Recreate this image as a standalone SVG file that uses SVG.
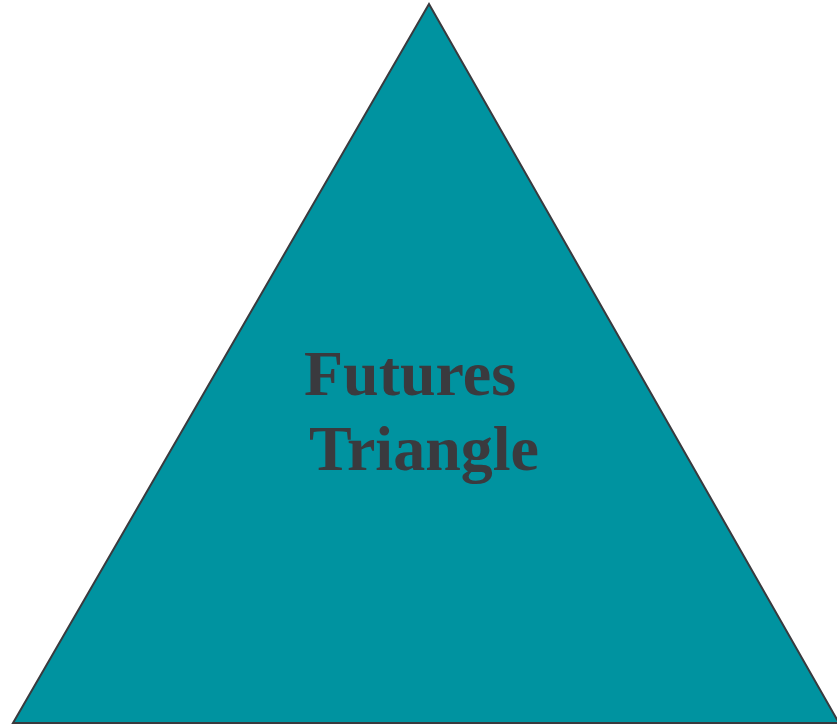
<svg xmlns="http://www.w3.org/2000/svg" width="837" height="726" viewBox="0 0 837 726">
<style>
.tri{fill:#0093a0;stroke:#3a3a3e;stroke-width:2}
.lbl{font-family:"Liberation Serif","Times New Roman",serif;font-weight:bold;font-size:64px;fill:#3a3a3e}
</style>
<rect width="837" height="726" fill="#ffffff"/>
<g id="triangle">
<polygon class="tri" points="429,4 13,723 839,723"/>
<text class="lbl" x="304" y="395">Futures</text>
<text class="lbl" x="309" y="470">Triangle</text>
</g>
</svg>
